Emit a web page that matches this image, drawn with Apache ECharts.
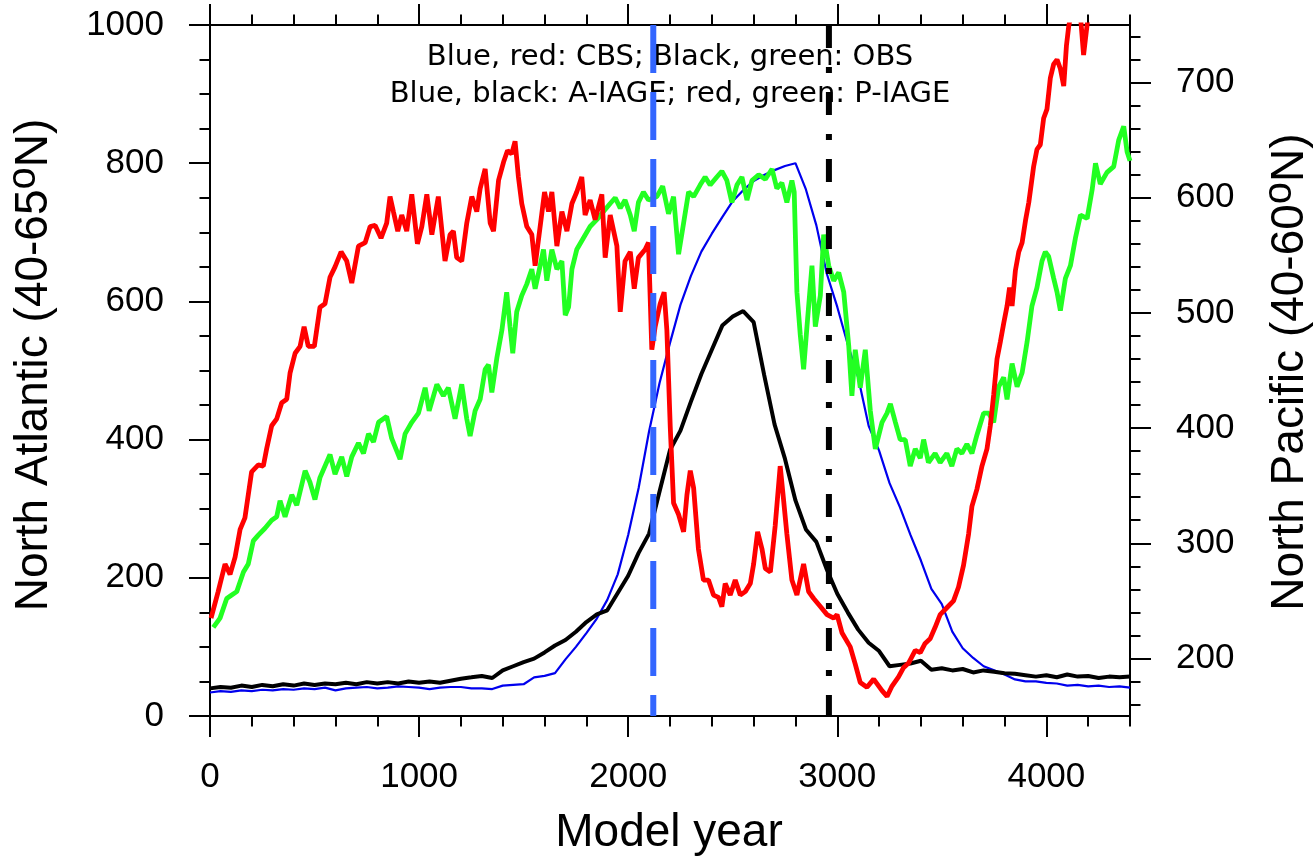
<!DOCTYPE html>
<html><head><meta charset="utf-8">
<script src="https://cdn.jsdelivr.net/npm/echarts@6/dist/echarts.min.js"></script>
<style>html,body{margin:0;padding:0;background:#fff}#c{width:1316px;height:862px}</style>
</head><body><div id="c"></div>
<script>
// ---------- DATA ----------
const aYears = [0,50,100,150,200,250,300,350,400,450,500,550,600,650,700,750,800,850,900,950,
  1000,1050,1100,1150,1200,1250,1300,1350,1400,1450,1500,1550,1600,1650,1700,1750,1800,1850,1900,1950,
  2000,2050,2100,2150,2200,2250,2300,2350,2400,2450,2500,2550,2600,2650,2700,2750,2800,2850,2900,2950,
  3000,3050,3100,3150,3200,3250,3300,3350,3400,3450,3500,3550,3600,3650,3700,3750,3800,3850,3900,3950,
  4000,4050,4100,4150,4200,4250,4300,4350,4400];
// Blue: CBS, A-IAGE (left axis)
const blueVals = [34,36,35,37,36,38,37,39,38,40,39,41,37,40,41,42,40,41,43,42,
  41,39,41,42,42,40,40,39,44,45,46,56,58,62,82,100,120,141,168,205,
  262,330,412,482,540,595,637,672,698,722,745,761,774,783,790,796,800,762,710,640,
  592,538,490,420,384,337,302,262,225,184,162,122,98,84,72,66,60,53,50,50,
  48,47,44,45,43,44,42,43,41];
// Black: OBS, A-IAGE (left axis)
const blackVals = [40,42,41,44,42,45,43,46,44,47,45,47,46,48,46,49,47,49,47,50,
  48,50,48,51,54,56,58,55,66,72,78,83,92,102,110,122,136,147,153,178,
  203,236,264,325,385,413,455,495,530,565,578,586,570,494,422,372,312,270,252,212,
  177,150,125,106,94,72,74,76,80,67,69,66,68,63,66,64,62,61,59,57,
  59,56,60,57,58,55,57,56,57];
// Red: CBS, P-IAGE (right axis)
const redYears = [5,39,72,96,120,144,167,199,231,255,271,295,319,343,367,383,407,431,450,470,
  499,526,550,574,598,627,654,678,710,742,766,790,818,845,861,877,898,917,941,965,
  992,1013,1037,1061,1092,1124,1148,1164,1180,1204,1228,1252,1276,1292,1316,1340,1356,1380,1404,1423,
  1443,1459,1475,1491,1515,1539,1555,1579,1600,1619,1635,1659,1683,1707,1731,1754,1778,1794,1818,1842,
  1874,1890,1914,1946,1962,1985,2010,2029,2049,2081,2097,2113,2129,2153,2172,2185,2201,2217,2241,2265,
  2281,2297,2313,2336,2360,2384,2408,2432,2448,2464,2488,2512,2536,2560,2584,2600,2619,2640,2656,2680,
  2703,2727,2743,2759,2783,2807,2839,2863,2887,2919,2951,2983,2999,3023,3062,3086,3110,3142,3174,3214,
  3238,3262,3293,3317,3341,3373,3397,3420,3444,3468,3492,3524,3556,3580,3604,3628,3644,3668,3692,3716,
  3732,3748,3764,3780,3796,3812,3824,3836,3852,3868,3884,3900,3916,3939,3955,3971,3987,4003,4019,4035,
  4051,4067,4083,4096,4107,4130,4160,4178,4196,4230,4300,4400];
const redVals = [235,258,282,273,288,312,322,362,368,367,382,402,408,422,425,448,465,471,488,471,
  471,505,508,531,540,553,545,526,558,561,575,576,565,578,601,588,571,585,571,603,
  560,575,603,568,601,545,568,571,548,545,578,601,588,608,625,578,571,615,631,641,
  638,649,618,595,575,568,541,575,605,588,605,558,588,571,595,605,618,585,598,581,
  603,548,585,558,501,545,553,521,548,555,561,468,488,508,518,485,402,335,325,310,
  342,363,348,295,268,268,255,253,245,265,255,268,255,258,265,282,310,295,278,275,
  315,367,338,308,268,255,282,258,252,245,238,235,238,222,210,195,179,175,182,172,
  167,176,184,192,196,207,205,213,217,227,238,244,250,262,281,308,332,347,367,382,
  402,429,460,475,491,506,522,506,537,553,561,580,596,627,642,646,669,677,704,716,
  720,712,697,732,749,770,765,724,752,775,790,800];
// Green: OBS, P-IAGE (right axis)
const greenYears = [16,48,80,104,128,160,183,207,231,263,295,319,335,359,391,415,455,478,502,526,
  574,598,630,654,678,710,734,758,782,806,845,869,909,933,965,997,1029,1048,1085,1116,
  1140,1172,1204,1228,1244,1268,1292,1316,1332,1348,1372,1396,1419,1435,1448,1467,1491,1515,1539,1555,
  1579,1595,1611,1635,1659,1683,1699,1715,1731,1754,1786,1818,1850,1882,1914,1938,1962,1985,2010,2029,
  2049,2073,2097,2137,2165,2193,2217,2241,2265,2289,2313,2344,2368,2392,2424,2448,2472,2496,2520,2544,
  2568,2592,2624,2656,2688,2711,2735,2759,2783,2794,2807,2823,2839,2855,2879,2895,2919,2935,2959,2983,
  3007,3031,3055,3070,3086,3110,3134,3158,3182,3214,3238,3254,3278,3301,3325,3349,3373,3397,3413,3436,
  3468,3492,3524,3548,3572,3596,3620,3644,3668,3700,3724,3748,3772,3796,3812,3836,3860,3884,3908,3931,
  3955,3979,3995,4011,4035,4051,4067,4091,4115,4139,4163,4195,4219,4235,4258,4290,4322,4346,4370,4386,
  4400];
const greenVals = [227,235,252,255,258,275,282,302,307,313,320,323,337,323,342,333,363,353,338,357,
  377,360,375,358,375,387,378,395,388,405,410,391,373,395,405,413,435,415,438,428,
  435,408,438,408,393,415,425,451,455,431,461,485,518,488,465,501,515,525,538,521,
  541,555,528,555,538,545,498,505,538,555,565,575,581,588,595,600,591,598,585,571,
  596,605,598,601,610,586,601,551,578,605,601,611,618,611,618,623,615,596,611,618,
  598,615,620,616,625,608,613,596,615,605,518,481,451,488,541,488,515,568,541,528,
  535,518,471,428,468,435,468,415,382,405,413,421,405,390,390,367,382,374,390,370,
  378,370,378,367,382,378,386,378,394,413,413,405,436,444,425,456,436,448,475,506,
  522,545,553,549,530,518,502,530,541,565,585,582,607,630,612,622,627,650,662,640,
  632];
const markerYears = [2120, 2960];
// Tick values / labels
const xMajor = [0,1000,2000,3000,4000];
const xMinor = [200,400,600,800,1200,1400,1600,1800,2200,2400,2600,2800,3200,3400,3600,3800,4200,4400];
const leftMajor = [0,200,400,600,800,1000];
const leftMinor = [50,100,150,250,300,350,450,500,550,650,700,750,850,900,950];
const rightMajor = [200,300,400,500,600,700];
const rightMinor = [160,180,220,240,260,280,320,340,360,380,420,440,460,480,520,540,560,580,620,640,660,680,720,740];
const noteLines = ['Blue, red: CBS; Black, green: OBS', 'Blue, black: A-IAGE; red, green: P-IAGE'];
const xTitle = 'Model year';
const leftTitleParts = ['North Atlantic (40-65', 'o', 'N)'];
const rightTitleParts = ['North Pacific (40-60', 'o', 'N)'];

// ---------- CHART ----------
const FONT = 'Liberation Sans';
function pairs(xs, ys) { return xs.map((x, i) => [x, ys[i]]); }
const tickLine = { color: '#000', width: 2 };
const plainNum = v => String(v);
function xAx(pos, vals, len, showLine, showLabel) {
  return {
    type: 'value', position: pos, min: 0, max: 4400,
    axisLine: { show: showLine, onZero: false, lineStyle: { color: '#000', width: 2 } },
    axisTick: { show: true, inside: false, length: len, customValues: vals, lineStyle: tickLine },
    minorTick: { show: false },
    axisLabel: showLabel ? { show: true, customValues: vals, formatter: plainNum, fontSize: 35, fontFamily: FONT, color: '#000', margin: 44 } : { show: false },
    splitLine: { show: false }
  };
}
function yAx(pos, min, max, vals, len, showLine, showLabel) {
  return {
    type: 'value', position: pos, min: min, max: max,
    axisLine: { show: showLine, onZero: false, lineStyle: { color: '#000', width: 2 } },
    axisTick: { show: true, inside: false, length: len, customValues: vals, lineStyle: tickLine },
    minorTick: { show: false },
    axisLabel: showLabel ? { show: true, customValues: vals, formatter: plainNum, fontSize: 35, fontFamily: FONT, color: '#000', margin: 46 } : { show: false },
    splitLine: { show: false }
  };
}
const mctx = document.createElement('canvas').getContext('2d');
function measure(text, size) { mctx.font = size + 'px "' + FONT + '"'; return mctx.measureText(text).width; }
function titleGroup(cx, cy, parts) {
  const MAIN = 46, SUP = 40;
  const w1 = measure(parts[0], MAIN), w2 = measure(parts[1], SUP), w3 = measure(parts[2], MAIN);
  const x0 = -(w1 + w2 + w3) / 2;
  const st = (t, s) => ({ text: t, fill: '#000', fontSize: s, fontFamily: FONT, align: 'left', verticalAlign: 'middle', textAlign: 'left', textVerticalAlign: 'middle' });
  return { type: 'group', x: cx, y: cy, rotation: Math.PI / 2, children: [
    { type: 'text', x: x0, y: 0, style: st(parts[0], MAIN) },
    { type: 'text', x: x0 + w1, y: -10, style: st(parts[1], SUP) },
    { type: 'text', x: x0 + w1 + w2, y: 0, style: st(parts[2], MAIN) }
  ] };
}
const chart = echarts.init(document.getElementById('c'), null, { renderer: 'canvas' });
chart.setOption({
  animation: false,
  backgroundColor: '#fff',
  grid: { left: 210, right: 186, top: 25, bottom: 146, containLabel: false },
  xAxis: [
    xAx('bottom', xMajor, 21, true, true),
    xAx('bottom', xMinor, 10.5, false, false),
    xAx('top', xMajor, 21, true, false),
    xAx('top', xMinor, 10.5, false, false)
  ],
  yAxis: [
    yAx('left', 0, 1000, leftMajor, 21, true, true),
    yAx('right', 150, 750, rightMajor, 21, true, true),
    yAx('left', 0, 1000, leftMinor, 10.5, false, false),
    yAx('right', 150, 750, rightMinor, 10.5, false, false)
  ],
  series: [
    { name: 'Blue CBS A-IAGE', type: 'line', xAxisIndex: 0, yAxisIndex: 0, data: pairs(aYears, blueVals), symbol: 'none', lineStyle: { color: '#0000ee', width: 2.2 } },
    { name: 'Black OBS A-IAGE', type: 'line', xAxisIndex: 0, yAxisIndex: 0, data: pairs(aYears, blackVals), symbol: 'none', lineStyle: { color: '#000', width: 4 } },
    { name: 'Green OBS P-IAGE', type: 'line', xAxisIndex: 0, yAxisIndex: 1, data: pairs(greenYears, greenVals), symbol: 'none', lineStyle: { color: '#22ff22', width: 4.8 } },
    { name: 'Red CBS P-IAGE', type: 'line', xAxisIndex: 0, yAxisIndex: 1, data: pairs(redYears, redVals), symbol: 'none', clip: true, lineStyle: { color: '#ff0000', width: 4.8 } },
    { name: 'CBS marker', type: 'line', xAxisIndex: 0, yAxisIndex: 0, data: [[markerYears[0], 1000], [markerYears[0], 0]], symbol: 'none', lineStyle: { color: '#3366ff', width: 6, type: [48, 19] } },
    { name: 'OBS marker', type: 'line', xAxisIndex: 0, yAxisIndex: 0, data: [[markerYears[1], 1000], [markerYears[1], 0]], symbol: 'none', lineStyle: { color: '#000', width: 6, type: [23, 19, 6, 19] } }
  ],
  graphic: [
    { type: 'text', x: 670, y: 57, z: 0, style: { text: noteLines[0], fill: '#000', fontSize: 29, fontFamily: 'DejaVu Sans', align: 'center', verticalAlign: 'middle', textAlign: 'center', textVerticalAlign: 'middle' } },
    { type: 'text', x: 670, y: 94, z: 0, style: { text: noteLines[1], fill: '#000', fontSize: 29, fontFamily: 'DejaVu Sans', align: 'center', verticalAlign: 'middle', textAlign: 'center', textVerticalAlign: 'middle' } },
    { type: 'text', x: 669, y: 833, style: { text: xTitle, fill: '#000', fontSize: 46, fontFamily: FONT, align: 'center', verticalAlign: 'middle', textAlign: 'center', textVerticalAlign: 'middle' } },
    titleGroup(34, 365, leftTitleParts),
    titleGroup(1290, 372, rightTitleParts)
  ]
});
</script></body></html>
